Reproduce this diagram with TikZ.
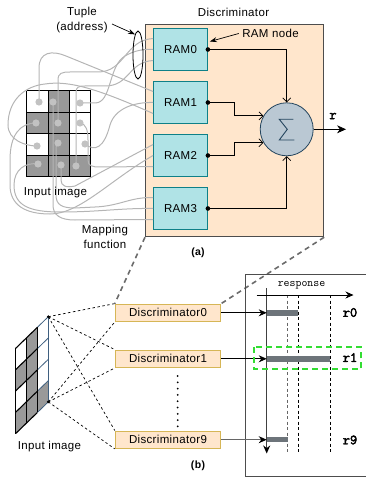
\documentclass[tikz,border=0pt]{standalone}
\usepackage{fontspec}
\setmainfont{Liberation Sans}[LetterSpace=3.0]
\newfontfamily\heavymono{Latin Modern Mono}[FakeBold=3]
\usetikzlibrary{arrows.meta,shapes.geometric}

\definecolor{peach}{HTML}{FFE6CC}
\definecolor{ramfill}{HTML}{B0E3E6}
\definecolor{ramdraw}{HTML}{0E8088}
\definecolor{sigfill}{HTML}{BAC8D3}
\definecolor{sigdraw}{HTML}{23445D}
\definecolor{discdraw}{HTML}{D6B656}
\definecolor{wire}{HTML}{B5B5B5}
\definecolor{cellgray}{HTML}{999999}
\definecolor{dotgray}{HTML}{C2C2C2}
\definecolor{bargray}{HTML}{6D747A}
\definecolor{hilite}{HTML}{33DD33}
\definecolor{edgeblue}{HTML}{3F5F7F}
\definecolor{framegray}{HTML}{4D4D4D}

\tikzset{
  ram/.style={draw=ramdraw, fill=ramfill, line width=0.8pt, minimum width=54pt,
    minimum height=42.5pt, inner sep=0pt},
  dbox/.style={draw=discdraw, fill=peach, line width=0.9pt, minimum width=105.5pt,
    minimum height=17.5pt, inner sep=0pt},
  wireline/.style={wire, line width=1pt},
  barb/.style={-{Straight Barb[length=4pt,width=8pt]}, line width=0.7pt},
  solidtip/.style={-{Stealth[length=8pt,width=7pt]}},
  fanline/.style={black, line width=0.7pt, dash pattern=on 2.5pt off 2.5pt},
  zoomline/.style={color=black!58, line width=1.6pt, dash pattern=on 5pt off 4pt},
  respbar/.style={bargray, line width=5.5pt},
  guide/.style={line width=0.8pt, dash pattern=on 3pt off 2.5pt},
  monobold/.style={font=\heavymono\fontsize{14}{14}\selectfont},
  tag/.style={font=\bfseries\fontsize{10.5}{12}\selectfont}
}

\begin{document}
\begin{tikzpicture}[x=1pt, y=-1pt, font=\fontsize{11.5}{15}\selectfont]
\useasboundingbox (0,0) rectangle (365,478);

% ---------- (a) discriminator frame ----------
\node[draw=framegray, fill=peach, line width=1.2pt, minimum width=178pt,
  minimum height=212pt, inner sep=0pt, anchor=north west] (disc) at (145,24) {};
\node (disctitle) at (233.5,12.5) {Discriminator};

% ---------- (a) input image ----------
\foreach \c/\r in {1/0,0/1,1/1,1/2,0/3,1/3,2/3}
  \fill[cellgray] ({26.7+21.33*\c},{90.7+21.5*\r}) rectangle ++(21.33,21.5);
\foreach \c in {0,...,3}
  \draw[line width=1pt] ({26.7+21.33*\c},90.7) -- ({26.7+21.33*\c},176.7);
\foreach \r in {0,...,4}
  \draw[line width=1pt] (26.7,{90.7+21.5*\r}) -- (90.7,{90.7+21.5*\r});

% pixel sample points
\coordinate (p00) at (39,102);  \coordinate (p01) at (53,102);  \coordinate (p02) at (80,103);
\coordinate (p10) at (36,123);  \coordinate (p11) at (58,123);  \coordinate (p12) at (80,123);
\coordinate (p20) at (37,146);  \coordinate (p21) at (58,143);  \coordinate (p22) at (85,144);
\coordinate (p30) at (38,164);  \coordinate (p31) at (61,165);  \coordinate (p32) at (76,166);

% RAM nodes
\node[ram] (ram0) at (180.5,49.5) {RAM0};
\node[ram] (ram1) at (180.5,102.5) {RAM1};
\node[ram] (ram2) at (180.5,155.5) {RAM2};
\node[ram] (ram3) at (180.5,208.5) {RAM3};

\foreach \k in {0,...,3} {
  \coordinate (in\k a) at ([yshift=11pt]ram\k.west);
  \coordinate (in\k b) at (ram\k.west);
  \coordinate (in\k c) at ([yshift=-11pt]ram\k.west);
}

% mapping function wires
\begin{scope}[wireline]
\draw (p00) -- (39,68) .. controls (39,52) and (52,50) .. (66,56) -- (in1a);
\draw (p11) -- (58,80) .. controls (58,73) and (62,72) .. (70,72) -- (98,72)
  .. controls (125,72) and (125,40) .. (in0a);
\draw (p32) -- (76,92) .. controls (76,87) and (79,86) .. (85,86) -- (105,86)
  .. controls (130,86) and (128,62) .. (in0c);
\draw (p02) -- (95,103) .. controls (112,103) and (108,66) .. (125,56)
  .. controls (135,50) and (145,49) .. (in0b);
\draw (p22) .. controls (95,152) and (104,148) .. (110,125)
  .. controls (115,108) and (135,102) .. (in1b);
\draw (p12) .. controls (86,124) and (88,130) .. (88,140) -- (88,160)
  .. controls (88,166) and (92,167) .. (100,167) -- (in2c);
\draw (p20) .. controls (25,146) and (8,140) .. (8,125)
  .. controls (8,100) and (25,86) .. (45,84) .. controls (70,80) and (100,90) .. (in1c);
\draw (p31) -- (61,180) .. controls (61,186) and (66,188) .. (75,186) -- (in2a);
\draw (p10) .. controls (20,123) and (10,135) .. (10,160) -- (10,185)
  .. controls (10,205) and (25,214) .. (50,214) .. controls (80,214) and (110,180) .. (in2b);
\draw (p21) .. controls (56,146) .. (56,155) -- (56,195)
  .. controls (56,205) and (62,208) .. (75,208) -- (95,207)
  .. controls (120,206) and (130,197) .. (in3a);
\draw (p30) .. controls (25,162) and (14,170) .. (14,185)
  .. controls (14,205) and (28,212) .. (60,212) .. controls (100,212) and (120,208) .. (in3b);
\draw (p01) -- (53,205) .. controls (53,215) and (60,220) .. (75,220) -- (in3c);
\end{scope}

\foreach \p in {p00,p01,p02,p10,p11,p12,p20,p21,p22,p30,p31,p32}
  \fill[dotgray] (\p) circle (3.6pt);

\node (inlabel) at (55.5,192.5) {Input image};
\node[align=center] (maplabel) at (105,237) {Mapping\\function};

% tuple marker
\node[draw, ellipse, line width=0.8pt, minimum width=10pt, minimum height=48pt,
  inner sep=0pt] (tuple) at (138,55) {};
\node[align=center] (tuplab) at (82,20) {Tuple\\(address)};
\coordinate (tupfrom) at (112,24);
\draw[-{Stealth[length=7pt,width=5pt]}, line width=0.7pt] (tupfrom) -- (tuple.98);

% summation node
\node[circle, draw=sigdraw, fill=sigfill, line width=0.8pt, minimum size=53pt,
  inner sep=0pt] (sig) at (286.7,129.3) {};
\begin{scope}[shift={(sig.center)}]
  \draw[sigdraw, line width=0.9pt, line join=miter]
    (6.6,-10) -- (-7.4,-10) -- (0.6,0) -- (-7.4,10.7) -- (7.6,10.7);
\end{scope}

% RAM outputs
\foreach \k in {0,...,3}
  \fill (ram\k.east) circle (2.3pt);
\draw[barb] (ram0.east) -| (sig.north);
\draw[barb] (ram1.east) -- (234,102.5) |- (sig.150);
\draw[barb] (ram2.east) -- (234,155.5) |- (sig.210);
\draw[barb] (ram3.east) -| (sig.south);

\coordinate (rout) at (346,129.3);
\draw[-{Stealth[length=9pt,width=8pt]}, line width=0.8pt] (sig.east) -- (rout);
\node[monobold] (rlab) at (333,116) {r};

\node (ramnote) at (270.5,33.5) {RAM node};
\draw[-{Stealth[length=7pt,width=5pt]}, line width=0.7pt]
  (ramnote.west) -- ([xshift=2pt,yshift=8pt]ram0.east);

\node[tag] (taga) at (198,253) {(a)};

% ---------- (b) ensemble ----------
\node[dbox] (d0) at (168,312.8) {Discriminator0};
\node[dbox] (d1) at (168,358.8) {Discriminator1};
\node[dbox] (d9) at (168,439.7) {Discriminator9};

\draw[zoomline] (disc.south west) -- (d0.north west);
\draw[zoomline] (disc.south east) -- (d0.north east);

% slanted input image
\foreach \i/\j in {0/1,0/3,1/0,1/1,1/2,1/3,2/3}
  \fill[cellgray] ({15.7+10.87*\i},{348.3-10.53*\i+21.3*\j})
    -- ({15.7+10.87*(\i+1)},{348.3-10.53*(\i+1)+21.3*\j})
    -- ({15.7+10.87*(\i+1)},{348.3-10.53*(\i+1)+21.3*(\j+1)})
    -- ({15.7+10.87*\i},{348.3-10.53*\i+21.3*(\j+1)}) -- cycle;
\foreach \j in {0,...,4} {
  \draw[line width=1.1pt] (15.7,{348.3+21.3*\j}) -- (37.44,{327.24+21.3*\j});
  \draw[edgeblue, line width=0.8pt] (37.44,{327.24+21.3*\j}) -- (48.31,{316.71+21.3*\j});
}
\foreach \i in {0,1,2}
  \draw[line width=1.1pt] ({15.7+10.87*\i},{348.3-10.53*\i}) -- ++(0,85.2);
\draw[edgeblue, line width=0.8pt] (48.31,316.71) -- ++(0,85.2);

\coordinate (gt) at (48.31,316.71);
\coordinate (gb) at (48.31,401.9);
\fill (gt) circle (1.5pt);
\fill (gb) circle (1.5pt);

\foreach \d in {d0,d1,d9} {
  \draw[fanline] (gt) -- (\d.north west);
  \draw[fanline] (gb) -- (\d.south west);
}

\node (inlabelb) at (49.5,446.7) {Input image};

\draw[line width=2pt, line cap=round, dash pattern=on 0pt off 6.3pt]
  (177.7,376) -- (177.7,427);

% response panel
\draw[framegray, line width=0.9pt] (366,274.5) -- (245.5,274.5) -- (245.5,476) -- (366,476);

\coordinate (vtop) at (266.7,288);
\coordinate (vbot) at (266.7,453.5);
\coordinate (hleft) at (256.7,295);
\coordinate (hright) at (353.5,295);

\draw[guide, color=black!60] (287.7,295) -- (287.7,453);
\draw[guide] (298.3,295) -- (298.3,453);
\draw[guide] (330,295) -- (330,453);

\draw[respbar] (vtop |- d0.east) -- (298.3,312.8);
\draw[respbar] (vtop |- d1.east) -- (330,358.8);
\draw[respbar] (vtop |- d9.east) -- (287.7,439.7);

\draw[color=black!75, line width=1.3pt, -{Stealth[length=8pt,width=7pt,color=black]}] (vtop) -- (vbot);
\draw[line width=0.8pt, -{Stealth[length=8pt,width=7pt]}] (hleft) -- (hright);
\node[font=\ttfamily\fontsize{11.5}{11.5}\selectfont] (resp) at (301.5,285.5) {response};

\draw[solidtip, line width=0.8pt] (d0.east) -- (vtop |- d0.east);
\draw[solidtip, line width=0.8pt] (d1.east) -- (vtop |- d1.east);
\draw[color=black!60, line width=0.9pt, -{Stealth[length=8pt,width=7pt,color=black]}]
  (d9.east) -- (vtop |- d9.east);

\node[monobold] (r0) at (350,312.5) {r0};
\node[monobold] (r1) at (350,357.5) {r1};
\node[monobold] (r9) at (350,440) {r9};

\draw[hilite, line width=1.8pt, dash pattern=on 6pt off 4pt] (254,347.3) rectangle (361,369.3);

\node[tag] (tagb) at (198,466) {(b)};
\end{tikzpicture}
\end{document}
